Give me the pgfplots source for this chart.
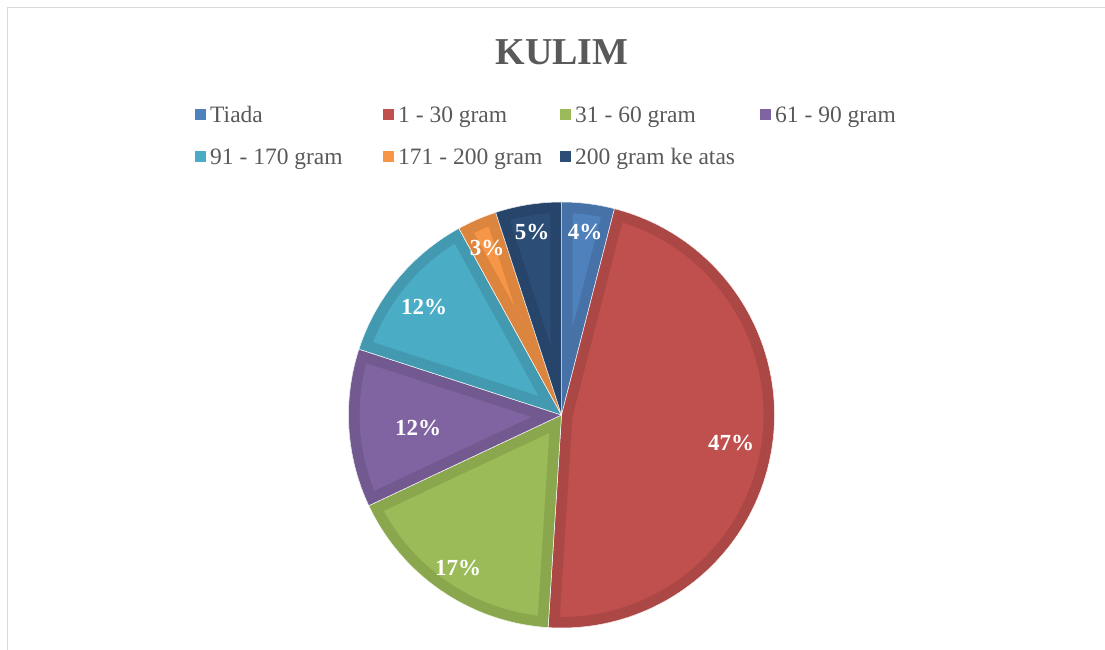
\documentclass[border=0pt]{standalone}
\usepackage{pgfplots}
\pgfplotsset{compat=1.18}
\usepackage{pgfplotstable}
\usepackage{fontspec}
\setmainfont{Liberation Serif}

\definecolor{c0}{HTML}{4F81BD}\definecolor{r0}{HTML}{4672A8}
\definecolor{c1}{HTML}{C0504D}\definecolor{r1}{HTML}{AB4744}
\definecolor{c2}{HTML}{9BBB59}\definecolor{r2}{HTML}{8AA74E}
\definecolor{c3}{HTML}{8064A2}\definecolor{r3}{HTML}{725990}
\definecolor{c4}{HTML}{4BACC6}\definecolor{r4}{HTML}{4399B0}
\definecolor{c5}{HTML}{F79646}\definecolor{r5}{HTML}{DC853E}
\definecolor{c6}{HTML}{2C4D75}\definecolor{r6}{HTML}{27446A}
\definecolor{txt}{HTML}{595959}
\definecolor{frame}{HTML}{D9D9D9}

% share of each category (percent)
\pgfplotstableread{
cat v
Tiada 4
1-30 47
31-60 17
61-90 12
91-170 12
171-200 3
200+ 5
}\pietable

\def\cur{90}
\foreach \i in {0,...,6}{%
  \pgfplotstablegetelem{\i}{v}\of\pietable
  \pgfmathsetmacro\endang{\cur-3.6*\pgfplotsretval}%
  \expandafter\xdef\csname sa\i\endcsname{\cur}%
  \expandafter\xdef\csname ea\i\endcsname{\endang}%
  \xdef\cur{\endang}%
}

\newcommand\slicepath[1]{(axis cs:561.5,235) -- +(\csname sa#1\endcsname:213pt) arc[start angle=\csname sa#1\endcsname, end angle=\csname ea#1\endcsname, radius=213pt] -- cycle}

\begin{document}
\begin{tikzpicture}
\useasboundingbox (0,0) rectangle (1105pt,650pt);
\begin{axis}[
  at={(0,0)}, anchor=south west,
  x=1pt, y=1pt, xmin=0, xmax=1105, ymin=0, ymax=650,
  scale only axis, hide axis, clip=false,
]
% frame
\draw[frame, line width=1.5pt] (axis cs:7.5,0) -- (axis cs:7.5,642.5) -- (axis cs:1105,642.5);

% slices
\pgfplotsinvokeforeach{0,...,6}{
  \begin{scope}
    \clip \slicepath{#1};
    \fill[c#1] \slicepath{#1};
    \draw[r#1, line width=22pt] \slicepath{#1};
  \end{scope}
  \draw[white, line width=0.5pt, line join=round] \slicepath{#1};
}

% title
\node[text=txt, font=\fontsize{38}{40}\selectfont\bfseries] at (axis cs:562,598) {KULIM};

% legend
\begin{scope}[every node/.style={anchor=base west, text=txt, font=\fontsize{23.5}{26}\selectfont, inner sep=0pt}]
\fill[c0] (axis cs:195,530) rectangle (axis cs:206,541);
\node at (axis cs:210,527) {Tiada};
\fill[c1] (axis cs:383,530) rectangle (axis cs:394,541);
\node at (axis cs:398,527) {1 - 30 gram};
\fill[c2] (axis cs:560,530) rectangle (axis cs:571,541);
\node at (axis cs:575,527) {31 - 60 gram};
\fill[c3] (axis cs:760,530) rectangle (axis cs:771,541);
\node at (axis cs:775,527) {61 - 90 gram};
\fill[c4] (axis cs:195,488) rectangle (axis cs:206,499);
\node at (axis cs:210,485) {91 - 170 gram};
\fill[c5] (axis cs:383,488) rectangle (axis cs:394,499);
\node at (axis cs:398,485) {171 - 200 gram};
\fill[c6] (axis cs:560,488) rectangle (axis cs:571,499);
\node at (axis cs:575,485) {200 gram ke atas};
\end{scope}

% data labels
\begin{scope}[every node/.style={text=white, font=\fontsize{23}{25}\selectfont\bfseries}]
\node at (axis cs:585,418) {4\%};
\node at (axis cs:731,207) {47\%};
\node at (axis cs:458,82) {17\%};
\node at (axis cs:418,222) {12\%};
\node at (axis cs:424,343) {12\%};
\node at (axis cs:487,402) {3\%};
\node at (axis cs:532,418) {5\%};
\end{scope}
\end{axis}
\end{tikzpicture}
\end{document}
